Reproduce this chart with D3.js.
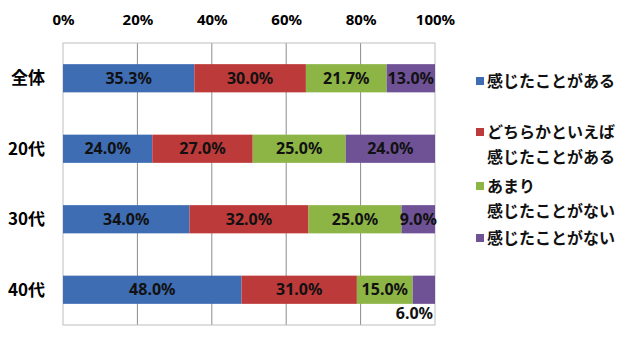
<!DOCTYPE html>
<html><head><meta charset="utf-8">
<script src="https://cdn.jsdelivr.net/npm/d3@7"></script>
<style>body{margin:0;background:#fff;} svg{display:block;} text{font-weight:bold;}</style>
</head><body><svg id="c" width="640" height="342"></svg>
<script>
const categories = ["全体", "20代", "30代", "40代"];
const seriesNames = ["感じたことがある", "どちらかといえば\n感じたことがある", "あまり\n感じたことがない", "感じたことがない"];
const colors = ["#3e6db4", "#bd3a3a", "#8db545", "#6f5196"];
const values = [
  [35.3, 30.0, 21.7, 13.0],
  [24.0, 27.0, 25.0, 24.0],
  [34.0, 32.0, 25.0, 9.0],
  [48.0, 31.0, 15.0, 6.0]
];
const tickValues = [0, 20, 40, 60, 80, 100];
const numFont = "'Noto Sans',sans-serif";
const jpFont = "'Noto Sans CJK JP','Noto Sans',sans-serif";

const svg = d3.select("#c");
const x = d3.scaleLinear().domain([0, 100]).range([63, 435]);
const y = d3.scaleBand().domain(categories).range([43, 325]).paddingInner(0.6).paddingOuter(0.3);

// gridlines
svg.append("g").selectAll("line").data(tickValues.slice(1, -1)).join("line")
  .attr("x1", d => x(d)).attr("x2", d => x(d)).attr("y1", 43).attr("y2", 325)
  .attr("stroke", "#8c8c8c").attr("stroke-width", 1);
svg.append("rect").attr("x", 63).attr("y", 43).attr("width", 372).attr("height", 282)
  .attr("fill", "none").attr("stroke", "#bdbdbd").attr("stroke-width", 1);

// top axis
const ax = svg.append("g").attr("transform", "translate(0,28)")
  .call(d3.axisTop(x).tickValues(tickValues).tickFormat(d => d + "%").tickSize(0));
ax.select(".domain").remove();
ax.selectAll("text").style("font-size", "15px").style("font-family", numFont).style("font-weight", "bold").attr("fill", "#000");

// category labels
svg.append("g").selectAll("text").data(categories).join("text")
  .attr("x", 45).attr("y", d => y(d) + y.bandwidth() / 2).attr("dy", "0.35em")
  .attr("text-anchor", "end").style("font-family", jpFont).style("font-size", "17px").text(d => d);

// bars
const rows = svg.append("g").selectAll("g").data(values).join("g");
rows.each(function(vals, i) {
  let cum = 0;
  const g = d3.select(this);
  vals.forEach((v, j) => {
    const x0 = x(cum), x1 = x(cum + v);
    g.append("rect").attr("x", x0).attr("y", y(categories[i])).attr("width", x1 - x0)
      .attr("height", y.bandwidth()).attr("fill", colors[j]);
    const small = (x1 - x0) < 30;
    g.append("text")
      .attr("x", small ? 433 : (x0 + x1) / 2)
      .attr("y", small ? y(categories[i]) + y.bandwidth() + 10 : y(categories[i]) + y.bandwidth() / 2)
      .attr("dy", "0.35em").attr("text-anchor", small ? "end" : "middle")
      .style("font-family", numFont)
      .style("font-size", "16px").attr("fill", "#111").text(v.toFixed(1) + "%");
    cum += v;
  });
});

// legend
const legendY = [81, 132, 186, 238];
const lg = svg.append("g");
seriesNames.forEach((name, i) => {
  lg.append("rect").attr("x", 476).attr("y", legendY[i] - 4).attr("width", 8).attr("height", 8).attr("fill", colors[i]);
  name.split("\n").forEach((line, k) => {
    lg.append("text").attr("x", 487).attr("y", legendY[i] + k * 25).attr("dy", "0.35em")
      .style("font-family", jpFont).style("font-size", "16px").attr("fill", "#111").text(line);
  });
});
</script></body></html>
